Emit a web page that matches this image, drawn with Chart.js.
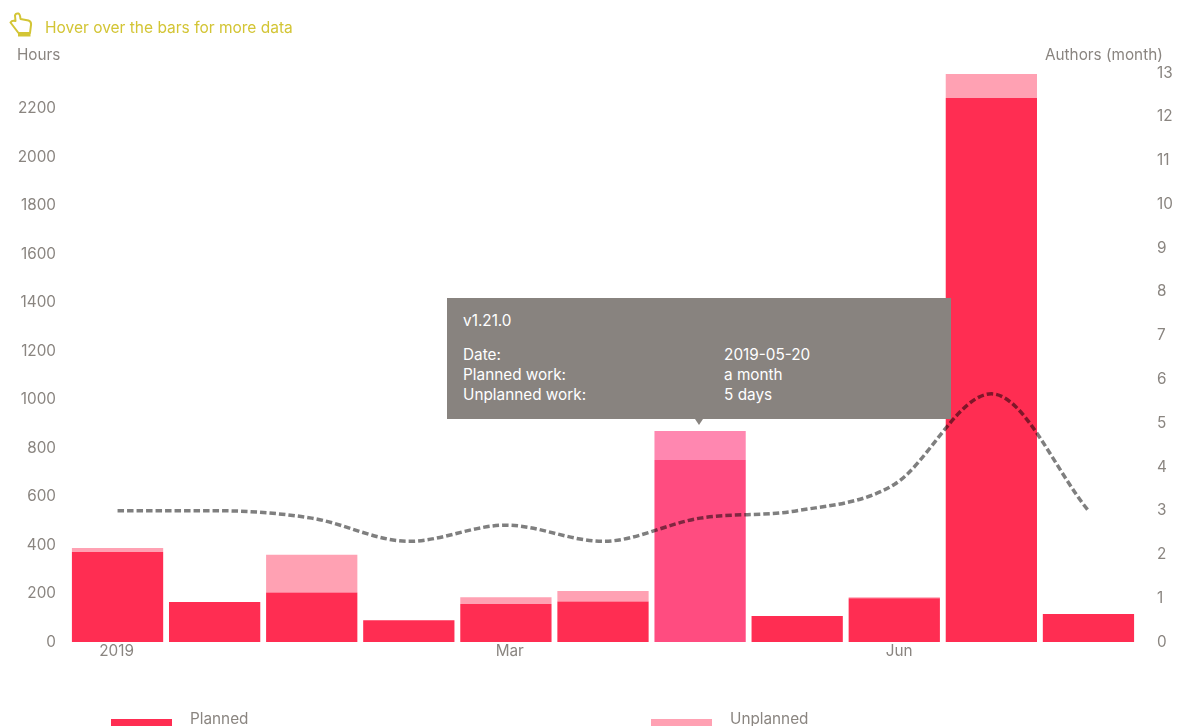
<!DOCTYPE html>
<html lang="en">
<head>
    <meta charset="UTF-8">
    <title>Hours and authors per release</title>
    <script src="https://cdn.jsdelivr.net/npm/chart.js"></script>
    <style>
        html, body { margin: 0; height: 100%; overflow: hidden; background: #fff; }
        body { font-family: Inter, sans-serif; color: #8a8580; font-size: 15.3px; }
        #wrap { position: relative; width: 1183px; height: 726px; overflow: hidden; }
        #wrap canvas { position: absolute; left: 0; top: 0; }
        .abs { position: absolute; white-space: nowrap; line-height: 16px; }
        #hint { left: 45px; top: 20px; color: #d3c535; font-size: 15.5px; }
        #hand { position: absolute; left: 9px; top: 12px; }
        .swatch { position: absolute; top: 719px; width: 61px; height: 12px; }
        #tip { position: absolute; display: none; background: #88837f; color: #fff; box-sizing: border-box; padding: 13px 16px 14px; font-size: 15.3px; line-height: 20px; }
        #tip:after { content: ""; position: absolute; left: 50%; margin-left: -4px; top: 100%; border: 4px solid transparent; border-top: 6px solid #88837f; border-bottom: 0; }
        #tip .t { margin-bottom: 14px; }
        #tip .r { display: flex; }
        #tip .r span:first-child { width: 261px; }
    </style>
</head>
<body>
<div id="wrap">
    <canvas id="hoursChart" width="1183" height="726"></canvas>
    <svg id="hand" width="24" height="25" viewBox="0 0 24 25">
        <path d="M1.5 10.5 Q3 8 6.5 9 L6 3.5 Q6.5 1 9.5 1.5 Q11 2 11.5 7 L19.5 8.5 Q22.5 9.5 22 13 L21 21 L9.5 21 Z" fill="#fff" stroke="#d3c535" stroke-width="2" stroke-linejoin="round"/>
        <rect x="9" y="20" width="12.5" height="4.5" fill="#d3c535"/>
    </svg>
    <div class="abs" id="hint">Hover over the bars for more data</div>
    <div class="abs" id="leftTitle" style="left:17px;top:47px"></div>
    <div class="abs" id="rightTitle" style="left:1045px;top:47px"></div>
    <div id="legend"></div>
    <div id="tip"></div>
</div>

<script>
    const releases = ['v1.15.0', 'v1.16.0', 'v1.17.0', 'v1.18.0', 'v1.19.0', 'v1.20.0', 'v1.21.0', 'v1.22.0', 'v1.23.0', 'v1.24.0', 'v1.25.0'];
    const plannedHours = [371, 165, 204, 90, 157, 167, 750, 107, 180, 2243, 115];
    const unplannedHours = [17, 0, 156, 0, 27, 43, 120, 0, 4, 99, 0];
    const authors = [3, 3, 2.83, 2.3, 2.67, 2.3, 2.83, 3, 3.6, 5.67, 3];

    const xTickValues = [0.49, 4.54, 8.55];
    const xTickLabels = ['2019', 'Mar', 'Jun'];
    const tipRows = [['Date:', '2019-05-20'], ['Planned work:', 'a month'], ['Unplanned work:', '5 days']];
    const activeRelease = 6;

    const GREY = '#8a8580';
    const tickFont = { family: 'Inter, sans-serif', size: 15.3 };

    function showTip(context) {
        const tip = document.getElementById('tip');
        const t = context.tooltip;
        if (t.opacity === 0 || !t.dataPoints) {
            tip.style.display = 'none';
            return;
        }
        const i = t.dataPoints[0].dataIndex;
        let html = '<div class="t">' + releases[i] + '</div>';
        tipRows.forEach(r => {
            html += '<div class="r"><span>' + r[0] + '</span><span>' + r[1] + '</span></div>';
        });
        tip.innerHTML = html;
        tip.style.display = 'block';
        tip.style.width = '504px';
        const top = context.chart.scales.y.getPixelForValue(plannedHours[i] + unplannedHours[i]);
        tip.style.left = (t.caretX - 253) + 'px';
        tip.style.top = (top - 12 - tip.offsetHeight) + 'px';
    }

    const chart = new Chart(document.getElementById('hoursChart').getContext('2d'), {
        data: {
            labels: releases,
            datasets: [
                {
                    type: 'line',
                    label: 'Authors',
                    data: authors,
                    yAxisID: 'yRight',
                    borderColor: 'rgba(0, 0, 0, 0.5)',
                    borderWidth: 3.5,
                    borderDash: [6.5, 3],
                    pointRadius: 0,
                    pointHoverRadius: 0,
                    cubicInterpolationMode: 'monotone',
                    order: 0
                },
                {
                    type: 'bar',
                    label: 'Planned',
                    data: plannedHours,
                    backgroundColor: '#ff2d52',
                    hoverBackgroundColor: '#ff4c80',
                    barPercentage: 0.94,
                    categoryPercentage: 1,
                    order: 1
                },
                {
                    type: 'bar',
                    label: 'Unplanned',
                    data: unplannedHours,
                    backgroundColor: '#ffa1b3',
                    hoverBackgroundColor: '#ff87b0',
                    barPercentage: 0.94,
                    categoryPercentage: 1,
                    order: 2
                }
            ]
        },
        options: {
            responsive: false,
            animation: false,
            layout: { padding: { top: 73 } },
            plugins: {
                legend: { display: false },
                title: { display: false },
                tooltip: { enabled: false, external: showTip, mode: 'index', position: 'average' }
            },
            scales: {
                x: { display: false, stacked: true },
                xDates: {
                    type: 'linear',
                    position: 'bottom',
                    min: 0,
                    max: 11,
                    afterBuildTicks: axis => { axis.ticks = xTickValues.map(v => ({ value: v })); },
                    afterFit: axis => { axis.height = 84; },
                    grid: { display: false, drawTicks: false },
                    border: { display: false },
                    ticks: {
                        color: GREY,
                        font: tickFont,
                        padding: 0,
                        maxRotation: 0,
                        autoSkip: false,
                        callback: (v, i) => xTickLabels[i]
                    }
                },
                y: {
                    stacked: true,
                    position: 'left',
                    min: 0,
                    max: 2346,
                    afterFit: axis => { axis.width = 69; },
                    grid: { display: false, drawTicks: false },
                    border: { display: false },
                    ticks: { stepSize: 200, includeBounds: false, color: GREY, font: tickFont, padding: 13, callback: v => String(v) }
                },
                yRight: {
                    position: 'right',
                    min: 0,
                    max: 13,
                    afterFit: axis => { axis.width = 46; },
                    grid: { display: false, drawTicks: false },
                    border: { display: false },
                    ticks: { stepSize: 1, color: GREY, font: tickFont, padding: 20 }
                }
            }
        }
    });

    // axis titles and legend sit outside the plot, at places the library legend can't reach
    document.getElementById('leftTitle').textContent = 'Hours';
    document.getElementById('rightTitle').textContent = 'Authors (month)';
    const legendSpots = [[111, 190, 1], [651, 730, 2]];
    document.getElementById('legend').innerHTML = legendSpots.map(s =>
        '<div class="swatch" style="left:' + s[0] + 'px;background:' + chart.data.datasets[s[2]].backgroundColor + '"></div>' +
        '<div class="abs" style="left:' + s[1] + 'px;top:711px">' + chart.data.datasets[s[2]].label + '</div>'
    ).join('');

    // the reference shows the bar of v1.21.0 hovered
    const active = [{ datasetIndex: 1, index: activeRelease }, { datasetIndex: 2, index: activeRelease }];
    chart.setActiveElements(active);
    chart.tooltip.setActiveElements(active, { x: 700, y: 500 });
    chart.render();
</script>
</body>
</html>
